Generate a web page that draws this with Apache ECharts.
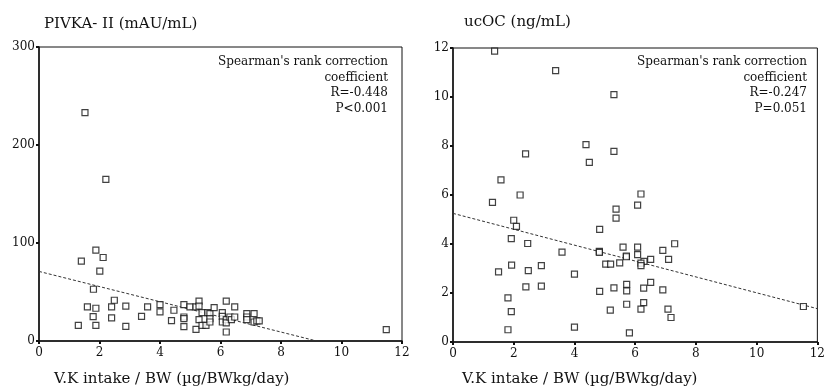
<!DOCTYPE html>
<html>
<head>
<meta charset="utf-8">
<script src="https://cdn.jsdelivr.net/npm/echarts@6/dist/echarts.min.js"></script>
<style>
  html, body { margin: 0; padding: 0; background: #fff; }
  #chartDom { width: 828px; height: 391px; }
</style>
</head>
<body>
<div id="chartDom"></div>
<script>
// PIVKA-II vs V.K intake / BW  [x, y]
var pivkaPoints = [
  [1.52, 233], [2.21, 165], [1.40, 81.5], [1.88, 92.7], [2.12, 85.2], [2.01, 71.3],
  [1.80, 52.8], [2.49, 41.6], [1.60, 34.8], [1.88, 33.4], [1.79, 24.9], [1.30, 16.0],
  [1.88, 16.0], [2.40, 34.8], [2.40, 23.5], [2.87, 35.5], [2.87, 15.0], [3.39, 25.2],
  [3.59, 34.8], [4.00, 37.2], [4.00, 29.7], [4.46, 31.4], [4.38, 20.8], [4.79, 37.2],
  [4.79, 24.5], [4.79, 22.8], [4.79, 14.7], [4.99, 34.8], [5.19, 34.8], [5.19, 11.9],
  [5.29, 40.6], [5.29, 35.5], [5.29, 21.8], [5.39, 29.0], [5.39, 16.0], [5.52, 16.0],
  [5.58, 29.0], [5.65, 28.0], [5.65, 22.8], [5.65, 19.4], [5.79, 34.1], [6.06, 29.0],
  [6.06, 25.2], [6.06, 19.4], [6.19, 40.6], [6.19, 21.8], [6.19, 18.4], [6.19, 9.2],
  [6.31, 24.5], [6.36, 21.8], [6.47, 34.8], [6.47, 24.5], [6.87, 28.0], [6.87, 24.5],
  [6.87, 21.8], [7.11, 28.0], [7.11, 19.4], [7.20, 20.5], [7.28, 20.5], [11.48, 11.6]
];
var pivkaLine = [[0, 71], [9.18, 0]];

// ucOC vs V.K intake / BW  [x, y]
var ucocPoints = [
  [1.37, 11.87], [3.38, 11.08], [5.30, 10.10], [4.38, 8.06], [5.30, 7.78], [4.49, 7.33],
  [2.39, 7.68], [1.58, 6.62], [2.21, 6.00], [1.30, 5.70], [6.19, 6.04], [6.08, 5.59],
  [5.37, 5.42], [5.37, 5.06], [2.00, 4.97], [2.09, 4.72], [1.92, 4.22], [4.83, 4.60],
  [2.46, 4.02], [3.59, 3.67], [4.82, 3.70], [4.82, 3.66], [5.60, 3.87], [6.08, 3.87],
  [6.08, 3.57], [5.71, 3.51], [5.71, 3.48], [7.30, 4.01], [6.91, 3.74], [6.51, 3.37],
  [7.10, 3.37], [6.29, 3.29], [6.19, 3.22], [6.19, 3.12], [5.49, 3.23], [5.03, 3.18],
  [5.19, 3.18], [1.50, 2.86], [2.48, 2.91], [1.93, 3.14], [2.91, 3.12], [4.00, 2.77],
  [2.40, 2.25], [2.91, 2.28], [4.83, 2.07], [5.30, 2.21], [5.72, 2.35], [5.72, 2.09],
  [6.28, 2.20], [6.51, 2.43], [6.91, 2.13], [1.81, 1.80], [1.92, 1.24], [5.72, 1.54],
  [6.28, 1.61], [5.18, 1.30], [6.19, 1.34], [7.08, 1.34], [7.18, 1.00], [1.81, 0.50],
  [4.00, 0.61], [5.81, 0.37], [11.54, 1.45]
];
var ucocLine = [[0, 5.25], [12, 1.36]];

var xTicks = [0, 2, 4, 6, 8, 10, 12];
var pivkaStats = ["Spearman's rank correction", 'coefficient', 'R=-0.448', 'P<0.001'];
var ucocStats = ["Spearman's rank correction", 'coefficient', 'R=-0.247', 'P=0.051'];

var serif = '"DejaVu Serif", "Liberation Serif", serif';
var ink = '#111';

function xAxisFor(gridIndex) {
  return {
    gridIndex: gridIndex,
    type: 'value',
    min: xTicks[0],
    max: xTicks[xTicks.length - 1],
    interval: 2,
    splitLine: { show: false },
    axisLine: { lineStyle: { color: ink, width: 1.5 } },
    axisTick: { length: 3, lineStyle: { color: ink, width: 2 } },
    axisLabel: { color: ink, fontFamily: serif, fontSize: 12, margin: 6 }
  };
}

function yAxisFor(gridIndex, max, interval) {
  return {
    gridIndex: gridIndex,
    type: 'value',
    min: 0,
    max: max,
    interval: interval,
    splitLine: { show: false },
    axisLine: { lineStyle: { color: ink, width: 1.5 } },
    axisTick: { length: 3, lineStyle: { color: ink, width: 2 } },
    axisLabel: { color: ink, fontFamily: serif, fontSize: 12, margin: 4 }
  };
}

function scatterFor(idx, data) {
  return {
    type: 'scatter',
    xAxisIndex: idx,
    yAxisIndex: idx,
    data: data,
    symbol: 'rect',
    symbolSize: 6,
    itemStyle: { color: '#fff', borderColor: ink, borderWidth: 1.2 },
    z: 3
  };
}

function lineFor(idx, data) {
  return {
    type: 'line',
    xAxisIndex: idx,
    yAxisIndex: idx,
    data: data,
    symbol: 'none',
    silent: true,
    lineStyle: { color: '#333', width: 1, type: [3, 2] },
    z: 2
  };
}

// one right-aligned text element per line
function statsText(rightEdge, lines) {
  return lines.map(function (line, i) {
    return {
      type: 'text',
      x: rightEdge,
      y: 62 + i * 15.6,
      style: {
        text: line,
        align: 'right',
        verticalAlign: 'middle',
        fill: ink,
        font: '12px ' + serif
      }
    };
  });
}

var titleStyle = { fontFamily: serif, fontSize: 15, fontWeight: 'normal', color: ink };

var chartDom = echarts.init(document.getElementById('chartDom'));
chartDom.setOption({
  backgroundColor: '#fff',
  animation: false,
  title: [
    { text: 'PIVKA- II (mAU/mL)', left: 39, top: 12, textStyle: titleStyle },
    { text: 'ucOC (ng/mL)', left: 459, top: 10, textStyle: titleStyle },
    { text: 'V.K intake / BW (\u00b5g/BWkg/day)', left: 49, top: 367, textStyle: titleStyle },
    { text: 'V.K intake / BW (\u00b5g/BWkg/day)', left: 457, top: 367, textStyle: titleStyle }
  ],
  grid: [
    { left: 39, top: 47, width: 363, height: 294, show: true, borderColor: ink, borderWidth: 1 },
    { left: 453, top: 48, width: 370, height: 294, show: true, borderColor: ink, borderWidth: 1 }
  ],
  xAxis: [xAxisFor(0), xAxisFor(1)],
  yAxis: [yAxisFor(0, 300, 100), yAxisFor(1, 12, 2)],
  series: [
    scatterFor(0, pivkaPoints),
    lineFor(0, pivkaLine),
    scatterFor(1, ucocPoints),
    lineFor(1, ucocLine)
  ],
  graphic: statsText(388, pivkaStats).concat(statsText(807, ucocStats))
});
</script>
</body>
</html>
